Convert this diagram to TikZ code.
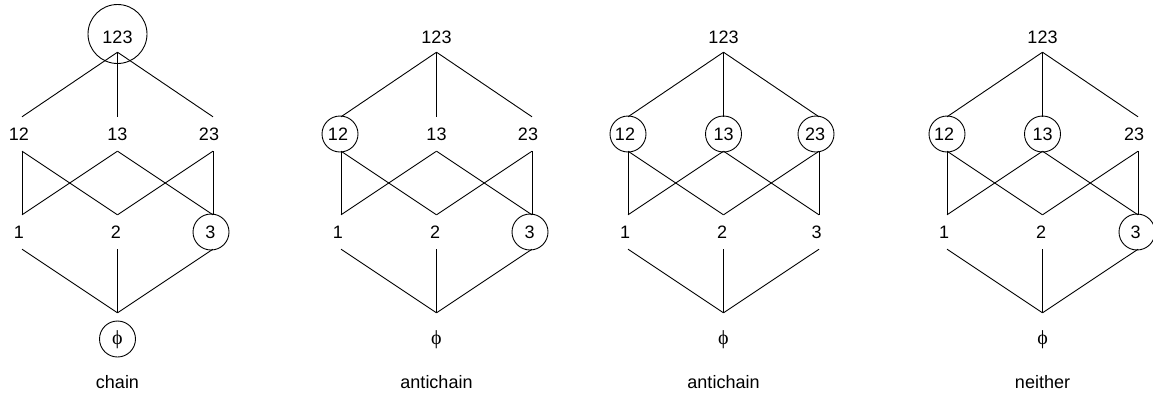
\documentclass[tikz,border=0pt]{standalone}
\usepackage{fontspec}
\setmainfont{Liberation Sans}
\newfontfamily\phifont{Liberation Serif}
\tikzset{
  elem/.style={inner sep=0pt, minimum width=36pt, minimum height=34pt, font=\fontsize{18}{20}\selectfont},
  topelem/.style={elem, minimum height=30pt},
  botelem/.style={elem, minimum height=54pt, font=\phifont\fontsize{20}{22}\selectfont},
  caption/.style={inner sep=0pt, font=\fontsize{18}{20}\selectfont},
  edge/.style={line width=0.9pt},
  ring/.style={line width=0.9pt},
}
% One subset lattice of {1,2,3}: #1 name prefix, #2 centre x, #3 caption
\newcommand\subsetlattice[3]{%
  \begin{scope}[shift={(#2,0)}]
    \node[topelem] (#1-123) at (0,37) {123};
    \node[elem] (#1-12) at (-95.5,134) {\kern-6pt12};
    \node[elem] (#1-13) at (0,134) {13};
    \node[elem] (#1-23) at (95.5,134) {\kern-8pt23};
    \node[elem] (#1-1) at (-95.5,232) {\kern-6pt1};
    \node[elem] (#1-2) at (0,232) {\kern-3pt2};
    \node[elem] (#1-3) at (95.5,232) {\kern-5pt3};
    \node[botelem] (#1-0) at (0,340) {\symbol{"03D5}};
    \node[caption] (#1-cap) at (0,382) {#3};
    \draw[edge] (#1-123.south) -- (#1-12.north);
    \draw[edge] (#1-123.south) -- (#1-13.north);
    \draw[edge] (#1-123.south) -- (#1-23.north);
    \draw[edge] (#1-12.south) -- (#1-1.north);
    \draw[edge] (#1-12.south) -- (#1-2.north);
    \draw[edge] (#1-13.south) -- (#1-1.north);
    \draw[edge] (#1-13.south) -- (#1-3.north);
    \draw[edge] (#1-23.south) -- (#1-2.north);
    \draw[edge] (#1-23.south) -- (#1-3.north);
    \draw[edge] (#1-1.south) -- (#1-0.north);
    \draw[edge] (#1-2.south) -- (#1-0.north);
    \draw[edge] (#1-3.south) -- (#1-0.north);
  \end{scope}}
\begin{document}
\begin{tikzpicture}[x=1pt, y=-1pt]
  \useasboundingbox (0,0) rectangle (1153,394);

  \subsetlattice{c}{117.5}{chain}
  \subsetlattice{a}{436.5}{antichain}
  \subsetlattice{b}{723.5}{antichain}
  \subsetlattice{n}{1042.5}{neither}

  % chain: 123 > 3 > empty set
  \draw[ring] ([yshift=3pt]c-123.center) circle[radius=29.5];
  \draw[ring] ([xshift=-2pt]c-3.center) circle[radius=18];
  \draw[ring] ([yshift=1pt]c-0.center) circle[radius=18];

  % antichain {12, 3}
  \draw[ring] ([xshift=-1pt]a-12.center) circle[radius=18];
  \draw[ring] ([xshift=-2pt]a-3.center) circle[radius=18];

  % antichain {12, 13, 23}
  \draw[ring] (b-12.center) circle[radius=18];
  \draw[ring] (b-13.center) circle[radius=18];
  \draw[ring] ([xshift=-3pt]b-23.center) circle[radius=18];

  % neither: {12, 13, 3}
  \draw[ring] (n-12.center) circle[radius=18];
  \draw[ring] (n-13.center) circle[radius=18];
  \draw[ring] ([xshift=-1pt]n-3.center) circle[radius=18];
\end{tikzpicture}
\end{document}
